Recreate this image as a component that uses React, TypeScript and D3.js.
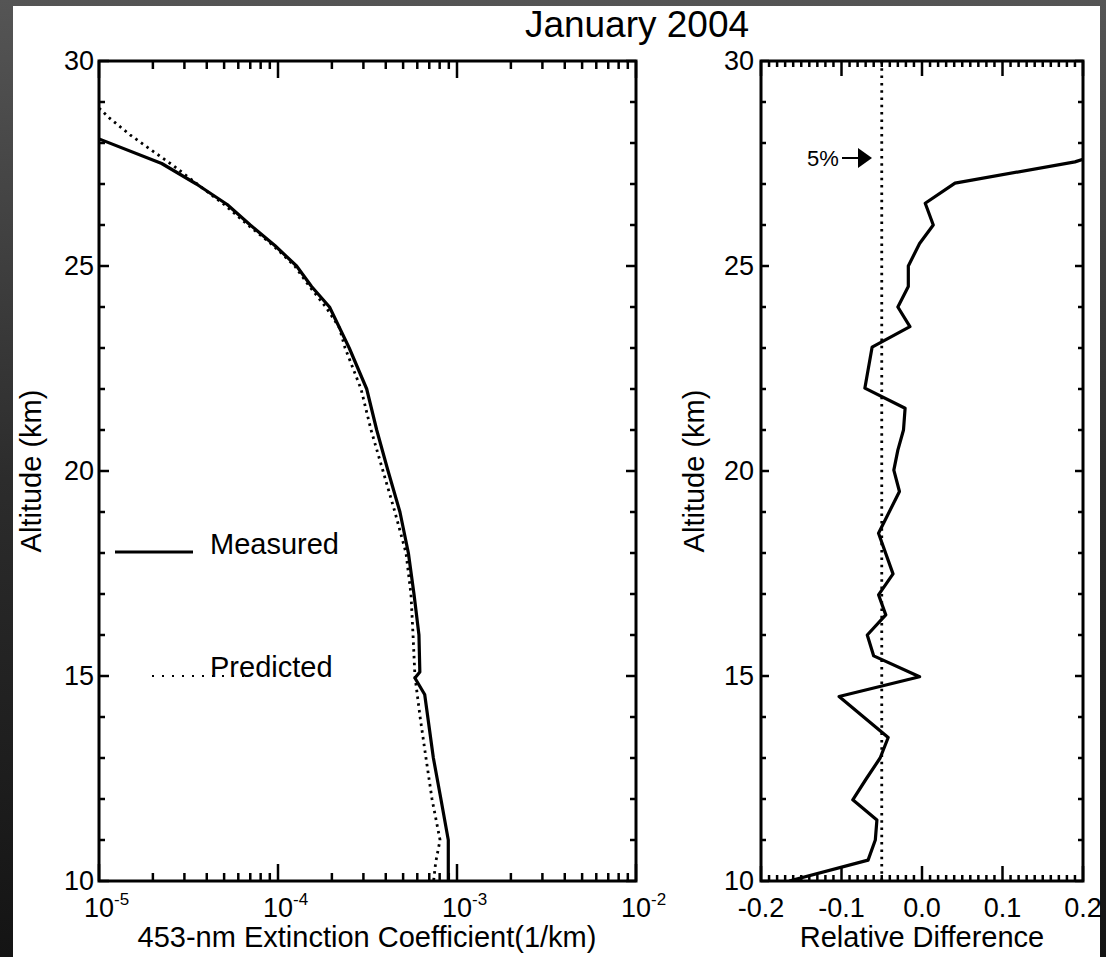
import React from "react";
import * as d3 from "d3";

// ---------- data ----------
const measuredAlt = [28.1, 27.5, 27.0, 26.5, 26.0, 25.5, 25.0, 24.5, 24.0, 23.0, 22.0, 21.0, 20.0, 19.0, 18.0, 17.0, 16.0, 15.1, 14.95, 14.55, 13.0, 12.0, 11.0, 10.0];
const measuredExt = [1.0e-5, 2.24e-5, 3.5e-5, 5.2e-5, 7.0e-5, 9.6e-5, 1.27e-4, 1.54e-4, 1.94e-4, 2.5e-4, 3.13e-4, 3.56e-4, 4.12e-4, 4.8e-4, 5.35e-4, 5.75e-4, 6.13e-4, 6.2e-4, 5.82e-4, 6.6e-4, 7.38e-4, 8.13e-4, 8.94e-4, 8.94e-4];

const predictedAlt = [28.85, 28.6, 28.2, 27.8, 27.45, 27.1, 26.5, 26.0, 25.5, 25.0, 24.5, 24.0, 23.5, 23.0, 22.0, 21.0, 20.0, 19.0, 18.0, 17.0, 16.0, 15.0, 14.0, 13.0, 12.0, 11.0, 10.45, 10.0];
const predictedExt = [1.0e-5, 1.15e-5, 1.49e-5, 2.0e-5, 2.6e-5, 3.3e-5, 5.0e-5, 6.8e-5, 9.4e-5, 1.24e-4, 1.5e-4, 1.85e-4, 2.2e-4, 2.37e-4, 2.91e-4, 3.31e-4, 3.86e-4, 4.5e-4, 5.19e-4, 5.53e-4, 5.68e-4, 5.82e-4, 6.22e-4, 6.71e-4, 7.25e-4, 8.04e-4, 7.6e-4, 7.4e-4];

const diffAlt = [27.6, 27.54, 27.02, 26.53, 26.0, 25.55, 25.0, 24.5, 24.0, 23.52, 23.02, 22.02, 21.53, 21.0, 20.51, 20.02, 19.5, 18.48, 17.49, 16.98, 16.49, 16.0, 15.49, 14.98, 14.5, 13.5, 13.0, 12.5, 11.98, 11.49, 11.0, 10.51, 10.0];
const diffVal = [0.2, 0.19, 0.041, 0.004, 0.014, -0.003, -0.017, -0.017, -0.03, -0.015, -0.062, -0.071, -0.021, -0.023, -0.03, -0.035, -0.028, -0.054, -0.036, -0.054, -0.045, -0.068, -0.06, -0.003, -0.103, -0.042, -0.052, -0.069, -0.086, -0.056, -0.058, -0.067, -0.165];

const threshold = -0.05;
const altTicks = [10, 15, 20, 25, 30];
const decadeTicks = [1e-5, 1e-4, 1e-3, 1e-2];
const decadeExp = ["-5", "-4", "-3", "-2"];
const rdTicks = [-0.2, -0.1, 0.0, 0.1, 0.2];
const rdLabels = ["-0.2", "-0.1", "0.0", "0.1", "0.2"];

const FONT = "'Liberation Sans', Arial, Helvetica, sans-serif";

export default function App() {
  const W = 1106, H = 957;
  const top = 61, bottom = 881;
  const L = { x0: 99, x1: 636 };
  const R = { x0: 761, x1: 1083 };

  const y = d3.scaleLinear().domain([10, 30]).range([bottom, top]);
  const xL = d3.scaleLog().domain([1e-5, 1e-2]).range([L.x0, L.x1]);
  const xR = d3.scaleLinear().domain([-0.2, 0.2]).range([R.x0, R.x1]);

  const measured = measuredAlt.map((a, i) => [measuredExt[i], a] as [number, number]);
  const predicted = predictedAlt.map((a, i) => [predictedExt[i], a] as [number, number]);
  const diff = diffAlt.map((a, i) => [diffVal[i], a] as [number, number]);

  const lineL = d3.line<[number, number]>().x(d => xL(d[0])).y(d => y(d[1]));
  const lineR = d3.line<[number, number]>().x(d => xR(d[0])).y(d => y(d[1]));

  const logMinor: number[] = [];
  decadeTicks.slice(0, 3).forEach(d => { for (let k = 2; k <= 9; k++) logMinor.push(d * k); });
  const altAll = d3.range(10, 31, 1);
  const rdAll = d3.range(-20, 21, 1).map(v => v / 100);

  const tickStroke = 2.5;

  const yTicks = (x0: number, x1: number, majLen: number, minLen: number) =>
    altAll.map(a => {
      const major = a % 5 === 0;
      const len = major ? majLen : minLen;
      return (
        <g key={"yt" + x0 + a}>
          <line x1={x0} x2={x0 + len} y1={y(a)} y2={y(a)} stroke="#000" strokeWidth={tickStroke} />
          <line x1={x1} x2={x1 - len} y1={y(a)} y2={y(a)} stroke="#000" strokeWidth={tickStroke} />
        </g>
      );
    });

  return (
    <svg width={W} height={H} style={{ position: "absolute", left: 0, top: 0 }} fontFamily={FONT}>
      <defs>
        <linearGradient id="bg" x1="0" y1="0" x2="0" y2="1">
          <stop offset="0" stopColor="#555" />
          <stop offset="0.5" stopColor="#2c2c2c" />
          <stop offset="1" stopColor="#141414" />
        </linearGradient>
        <clipPath id="clipL"><rect x={L.x0} y={top} width={L.x1 - L.x0} height={bottom - top} /></clipPath>
        <clipPath id="clipR"><rect x={R.x0} y={top} width={R.x1 - R.x0} height={bottom - top} /></clipPath>
      </defs>
      <rect x={0} y={0} width={W} height={H} fill="url(#bg)" />
      <rect x={13} y={6} width={1087} height={H - 6} fill="#fff" />

      <text x={637} y={37} fontSize={37} textAnchor="middle" fill="#000">January 2004</text>

      {/* ---------- left panel ---------- */}
      <g clipPath="url(#clipL)">
        <path d={lineL(predicted) || ""} fill="none" stroke="#000" strokeWidth={2.8} strokeDasharray="2.5,4.3" />
        <path d={lineL(measured) || ""} fill="none" stroke="#000" strokeWidth={3.2} strokeLinejoin="round" />
      </g>
      {decadeTicks.map(d => (
        <g key={"dm" + d}>
          <line x1={xL(d)} x2={xL(d)} y1={bottom} y2={bottom - 17} stroke="#000" strokeWidth={tickStroke} />
          <line x1={xL(d)} x2={xL(d)} y1={top} y2={top + 17} stroke="#000" strokeWidth={tickStroke} />
        </g>
      ))}
      {logMinor.map(d => (
        <g key={"lm" + d}>
          <line x1={xL(d)} x2={xL(d)} y1={bottom} y2={bottom - 8} stroke="#000" strokeWidth={tickStroke} />
          <line x1={xL(d)} x2={xL(d)} y1={top} y2={top + 8} stroke="#000" strokeWidth={tickStroke} />
        </g>
      ))}
      {yTicks(L.x0, L.x1, 10, 6)}
      <rect x={L.x0} y={top} width={L.x1 - L.x0} height={bottom - top} fill="none" stroke="#000" strokeWidth={3} />
      {altTicks.map(a => (
        <text key={"la" + a} x={94} y={y(a) + 9} fontSize={27} textAnchor="end">{a}</text>
      ))}
      {decadeTicks.map((d, i) => (
        <text key={"xl" + d} x={xL(d) - 15} y={917} fontSize={27}>
          10<tspan fontSize={17} dy={-12}>{decadeExp[i]}</tspan>
        </text>
      ))}
      <text x={367} y={947} fontSize={29} textAnchor="middle">453-nm Extinction Coefficient(1/km)</text>
      <text transform={`translate(41,471) rotate(-90)`} fontSize={29} textAnchor="middle">Altitude (km)</text>
      {/* legend */}
      <line x1={115} x2={193} y1={552} y2={552} stroke="#000" strokeWidth={3.2} />
      <text x={210} y={554} fontSize={29}>Measured</text>
      <line x1={152} x2={244} y1={676} y2={676} stroke="#000" strokeWidth={2.2} strokeDasharray="2,8" />
      <text x={210} y={677} fontSize={29}>Predicted</text>

      {/* ---------- right panel ---------- */}
      <g clipPath="url(#clipR)">
        <line x1={xR(threshold)} x2={xR(threshold)} y1={top} y2={bottom} stroke="#000" strokeWidth={2.8} strokeDasharray="2.5,4.8" />
        <path d={lineR(diff) || ""} fill="none" stroke="#000" strokeWidth={3.2} strokeLinejoin="round" />
      </g>
      {rdAll.map(v => {
        const major = Math.abs(Math.round(v * 100) % 10) === 0;
        const len = major ? 15 : 6;
        return (
          <g key={"rt" + v}>
            <line x1={xR(v)} x2={xR(v)} y1={bottom} y2={bottom - len} stroke="#000" strokeWidth={tickStroke} />
            <line x1={xR(v)} x2={xR(v)} y1={top} y2={top + len} stroke="#000" strokeWidth={tickStroke} />
          </g>
        );
      })}
      {yTicks(R.x0, R.x1, 8, 5)}
      <rect x={R.x0} y={top} width={R.x1 - R.x0} height={bottom - top} fill="none" stroke="#000" strokeWidth={3} />
      {altTicks.map(a => (
        <text key={"ra" + a} x={754} y={y(a) + 9} fontSize={27} textAnchor="end">{a}</text>
      ))}
      {rdTicks.map((v, i) => (
        <text key={"rx" + v} x={xR(v)} y={917} fontSize={27} textAnchor="middle">{rdLabels[i]}</text>
      ))}
      <text x={922} y={947} fontSize={29} textAnchor="middle">Relative Difference</text>
      <text transform={`translate(704,471) rotate(-90)`} fontSize={29} textAnchor="middle">Altitude (km)</text>
      {/* 5% annotation */}
      <text x={807} y={166} fontSize={22}>5%</text>
      <line x1={842} x2={860} y1={158} y2={158} stroke="#000" strokeWidth={2} />
      <path d="M858,148 L872,158 L858,168 Z" fill="#000" />
    </svg>
  );
}
